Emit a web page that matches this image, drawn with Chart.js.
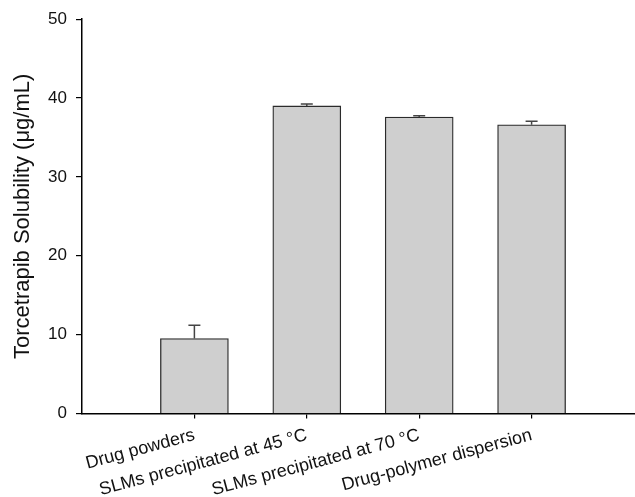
<!DOCTYPE html>
<html>
<head>
<meta charset="utf-8">
<script src="https://cdn.jsdelivr.net/npm/chart.js@4.4.0/dist/chart.umd.min.js"></script>
<style>
  html, body { margin: 0; padding: 0; background: #fff; }
  #wrap { width: 635px; height: 497px; }
</style>
</head>
<body>
<div id="wrap"><canvas id="chart"></canvas></div>
<script>
// dane z wykresu
const categories = ['Drug powders', 'SLMs precipitated at 45 °C', 'SLMs precipitated at 70 °C', 'Drug-polymer dispersion'];
const positions = [1, 2, 3, 4];
const means = [9.5, 39.0, 37.6, 36.6];
const errors = [1.7, 0.25, 0.15, 0.45];
const yTicks = [0, 10, 20, 30, 40, 50];

const FONT = 'Liberation Sans, Arial, Helvetica, sans-serif';

// słupki błędów (tylko w górę)
const errorBars = {
    id: 'errorBars',
    afterDatasetsDraw(chart) {
        const { ctx, scales: { x, y } } = chart;
        ctx.save();
        ctx.strokeStyle = '#444';
        ctx.lineWidth = 1.5;
        means.forEach((m, i) => {
            const px = x.getPixelForValue(positions[i]);
            const yBase = y.getPixelForValue(m);
            const yTop = y.getPixelForValue(m + errors[i]);
            ctx.beginPath();
            ctx.moveTo(px, yBase);
            ctx.lineTo(px, yTop);
            ctx.moveTo(px - 6, yTop);
            ctx.lineTo(px + 6, yTop);
            ctx.stroke();
        });
        ctx.restore();
    }
};

new Chart(document.getElementById('chart'), {
    type: 'bar',
    data: {
        datasets: [{
            data: positions.map((p, i) => ({ x: p, y: means[i] })),
            backgroundColor: '#cfcfcf',
            borderColor: '#2b2b2b',
            borderWidth: 1.3,
            barThickness: 68
        }]
    },
    options: {
        responsive: true,
        maintainAspectRatio: false,
        animation: false,
        layout: { padding: { top: 15.5, right: 0, left: 0, bottom: 0 } },
        plugins: {
            legend: { display: false },
            tooltip: { enabled: false }
        },
        scales: {
            x: {
                type: 'linear',
                offset: false,
                min: 0,
                max: 4.92,
                afterBuildTicks: (scale) => {
                    scale.ticks = positions.map(v => ({ value: v }));
                },
                afterFit: (scale) => { scale.height = 83.5; },
                grid: {
                    offset: false,
                    drawOnChartArea: false,
                    color: '#000',
                    tickLength: 5,
                    lineWidth: 1.2
                },
                border: { color: '#000', width: 1.5 },
                ticks: {
                    color: '#111',
                    font: { family: FONT, size: 18 },
                    minRotation: 15,
                    maxRotation: 15,
                    padding: 6,
                    autoSkip: false,
                    callback: (v) => categories[positions.indexOf(v)] || ''
                }
            },
            y: {
                min: 0,
                max: 50,
                afterBuildTicks: (scale) => {
                    scale.ticks = yTicks.map(v => ({ value: v }));
                },
                afterFit: (scale) => { scale.width = 82; },
                grid: {
                    drawOnChartArea: false,
                    color: '#000',
                    tickLength: 6,
                    lineWidth: 1.2
                },
                border: { color: '#000', width: 1.5 },
                ticks: {
                    color: '#111',
                    font: { family: FONT, size: 17 },
                    padding: 9
                },
                title: {
                    display: true,
                    text: 'Torcetrapib Solubility (μg/mL)',
                    color: '#111',
                    font: { family: FONT, size: 22 },
                    padding: { top: 10, bottom: 0 }
                }
            }
        }
    },
    plugins: [errorBars]
});
</script>
</body>
</html>
